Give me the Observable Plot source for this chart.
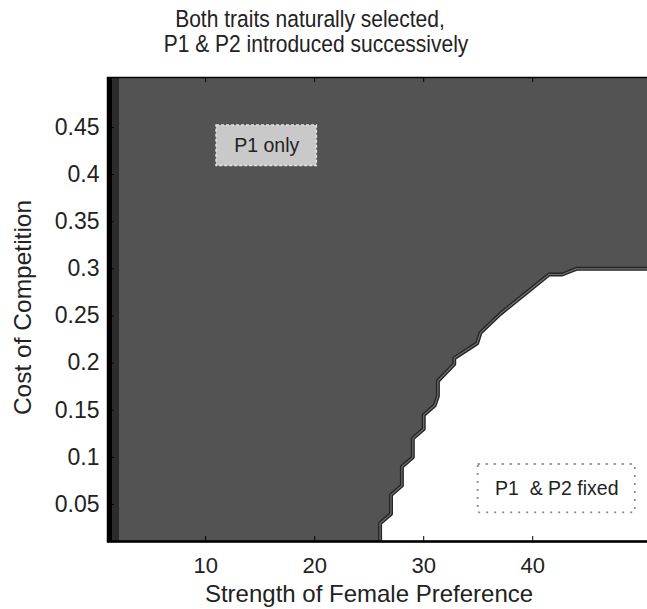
<!DOCTYPE html>
<html><head><meta charset="utf-8">
<script src="https://cdn.jsdelivr.net/npm/d3@7"></script>
<script src="https://cdn.jsdelivr.net/npm/@observablehq/plot@0.6"></script>
<style>
body{margin:0;background:#fff;font-family:"Liberation Sans",Arial,sans-serif;}
#wrap{position:relative;width:647px;height:609px;overflow:hidden}
.tl{position:absolute;left:0;width:620px;text-align:center;font-size:21px;line-height:25px;color:#222;white-space:pre;transform:scaleY(1.1)}
#chart{position:absolute;left:0;top:0;width:660px}
#chart svg{max-width:none !important}
</style></head><body>
<div id="wrap">
<div id="chart"></div>
<div class="tl" style="top:6px">Both traits naturally selected,</div>
<div class="tl" style="top:31px;left:6px">P1 &amp; P2 introduced successively</div>
</div>
<script>
// Axis ticks and titles
const xTicks = [10, 20, 30, 40];
const yTicks = [0.05, 0.1, 0.15, 0.2, 0.25, 0.3, 0.35, 0.4, 0.45];
const xTitle = ["Strength of Female Preference"];
const yTitle = ["Cost of Competition"];
const xDomain = [1, 50.8];
const yDomain = [0.0107, 0.503];

// Boundary of the "P1 & P2 fixed" region (minimum preference for each cost)
const boundaryX = [26, 26, 27, 27, 28, 28, 29, 29, 30, 30, 31, 31.3, 31.3, 32.8, 32.8, 34.9, 35.2, 37, 41.5, 42.7, 44, 50.8];
const boundaryY = [0.0, 0.03, 0.04, 0.06, 0.07, 0.09, 0.10, 0.12, 0.13, 0.145, 0.155, 0.165, 0.181, 0.199, 0.205, 0.221, 0.232, 0.252, 0.294, 0.294, 0.30, 0.30];

// Narrow edge column (lowest preference) shaded darker
const edgeX1 = [1];
const edgeX2 = [2.1];

// Region labels
const labelText = ["P1 only", "P1  & P2 fixed"];
const labelX = [15.6, 42.2];
const labelY = [0.4305, 0.0667];
const boxX1 = [11, 35];
const boxX2 = [20.2, 49.4];
const boxY1 = [0.409, 0.041];
const boxY2 = [0.452, 0.0924];

const boundary = boundaryX.map((x, i) => ({x, y: boundaryY[i]}));
const labels = labelText.map((t, i) => ({
  t, x: labelX[i], y: labelY[i], x1: boxX1[i], x2: boxX2[i], y1: boxY1[i], y2: boxY2[i]
}));

const W = 660, H = 609, ML = 107, MR = 10, MT = 77, MB = 68;
const frameW = W - ML - MR, frameH = H - MT - MB;
const fmt = d => String(d);

const plot = Plot.plot({
  width: W,
  height: H,
  marginLeft: ML,
  marginRight: MR,
  marginTop: MT,
  marginBottom: MB,
  style: {fontFamily: "'Liberation Sans', Arial, sans-serif", fontSize: "24px", color: "#222", background: "transparent", maxWidth: "none"},
  x: {domain: xDomain},
  y: {domain: yDomain},
  marks: [
    Plot.frame({fill: "#535353", stroke: null}),
    Plot.rect(edgeX1, {x1: d => d, x2: (d, i) => edgeX2[i], y1: yDomain[0], y2: yDomain[1], fill: "#2c2c2c"}),
    Plot.areaX(boundary, {y: "y", x1: "x", x2: xDomain[1], fill: "#ffffff", clip: true}),
    Plot.line(boundary, {x: "x", y: "y", stroke: "#252525", strokeWidth: 4, clip: true}),
    Plot.line(boundary, {x: "x", y: "y", stroke: "#707070", strokeWidth: 1.2, clip: true}),
    Plot.rect([labels[0]], {x1: "x1", x2: "x2", y1: "y1", y2: "y2", fill: "#c9c9c9", stroke: "#e4e4e4", strokeDasharray: "3,2", strokeWidth: 1.5}),
    Plot.rect([labels[1]], {x1: "x1", x2: "x2", y1: "y1", y2: "y2", fill: "#ffffff", stroke: "#8a8a8a", strokeDasharray: "2,6", strokeWidth: 1.8}),
    Plot.text(labels, {x: "x", y: "y", text: "t", fontSize: 19.5, fill: "#222"}),
    // inward tick marks
    Plot.ruleX(xTicks, {x: d => d, insetTop: frameH - 5, stroke: "#000"}),
    Plot.ruleX(xTicks, {x: d => d, insetBottom: frameH - 5, stroke: "#000"}),
    Plot.ruleY(yTicks, {y: d => d, insetRight: frameW - 7, stroke: "#000"}),
    // tick labels
    Plot.axisX({ticks: xTicks, tickFormat: fmt, anchor: "bottom", tickSize: 0, tickPadding: 16, fontSize: 22, label: null}),
    Plot.axisY({ticks: yTicks, tickFormat: fmt, anchor: "left", tickSize: 0, tickPadding: 8, fontSize: 23, label: null}),
    // axis titles
    Plot.text(xTitle, {text: d => d, frameAnchor: "bottom", textAnchor: "middle", lineAnchor: "bottom", dx: -10, dy: 60, fontSize: 24, fill: "#222"}),
    Plot.text(yTitle, {text: d => d, frameAnchor: "left", textAnchor: "middle", lineAnchor: "top", rotate: -90, dx: -94, dy: -2, fontSize: 24.5, fill: "#222"}),
    // frame lines
    Plot.frame({stroke: "#000", strokeWidth: 1.5}),
    Plot.ruleX([xDomain[0]], {stroke: "#000", strokeWidth: 5, dx: 2}),
    Plot.ruleY([yDomain[0]], {stroke: "#000", strokeWidth: 2.5})
  ]
});
document.getElementById("chart").appendChild(plot);
</script>
</body></html>
